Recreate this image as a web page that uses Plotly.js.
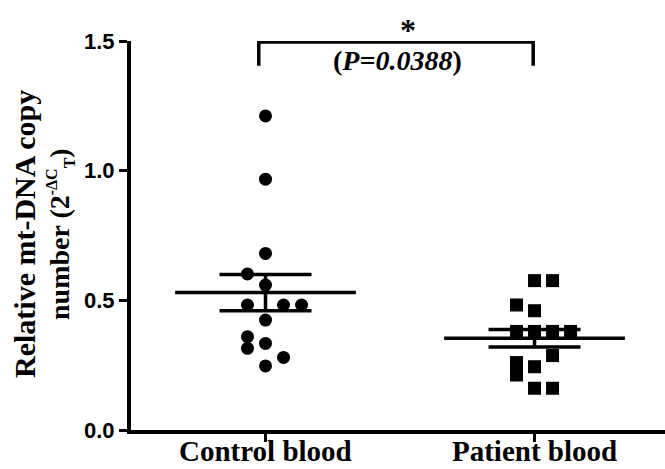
<!DOCTYPE html>
<html>
<head>
<meta charset="utf-8">
<script src="https://cdn.plot.ly/plotly-3.0.1.min.js"></script>
<style>html,body{margin:0;padding:0;background:#fff}#chart{width:665px;height:469px}</style>
</head>
<body>
<div id="chart"></div>
<script>
// ---- data ----
const categories = ['Control blood', 'Patient blood'];
const controlValues = [1.211, 0.967, 0.681, 0.602, 0.559, 0.482, 0.482, 0.482, 0.424, 0.360, 0.315, 0.334, 0.280, 0.247];
const controlSlots  = [0, 0, 0, -1, 0, -1, 1, 2, 0, -1, -1, 0, 1, 0];
const patientValues = [0.576, 0.576, 0.482, 0.460, 0.380, 0.380, 0.380, 0.380, 0.287, 0.260, 0.244, 0.212, 0.161, 0.161];
const patientSlots  = [0, 1, -1, 0, -1, 0, 1, 2, 1, -1, 0, -1, 0, 1];
const groupMeans = [0.530, 0.354];
const groupSEM   = [0.070, 0.034];
const yTickVals  = [0, 0.5, 1.0, 1.5];
const yTickText  = ['0.0', '0.5', '1.0', '1.5'];
const pValueText = 'P=0.0388';
const yTitleLines = ['Relative mt-DNA copy',
  'number (2<sup><span style="font-size:16px">-ΔC</span></sup><sub><span style="font-size:16px">T</span></sub>)'];

// ---- layout helpers (positions, not data) ----
const slotStep = 0.067;
const meanHalf = 0.336;
const serif = 'Liberation Serif, Times New Roman, serif';
const sans = 'Liberation Sans, Arial, sans-serif';
const plotH = 469 - 41 - 39;
const plotW = 665 - 131;

const traces = [
  {
    type: 'scatter', mode: 'markers',
    x: groupMeans.map((m, i) => i),
    y: groupMeans,
    marker: {size: 1, color: 'rgba(0,0,0,0)'},
    error_x: {type: 'constant', value: meanHalf, width: 0, thickness: 3.5, color: '#000'},
    error_y: {type: 'data', array: groupSEM, width: 46, thickness: 3.5, color: '#000'},
    hoverinfo: 'skip', showlegend: false
  },
  {
    type: 'scatter', mode: 'markers',
    x: controlSlots.map(s => 0 + s * slotStep),
    y: controlValues,
    marker: {symbol: 'circle', size: 13, color: '#000'},
    showlegend: false, cliponaxis: false
  },
  {
    type: 'scatter', mode: 'markers',
    x: patientSlots.map(s => 1 + s * slotStep),
    y: patientValues,
    marker: {symbol: 'square', size: 13, color: '#000'},
    showlegend: false, cliponaxis: false
  }
];

const annotations = [
  {xref: 'x', yref: 'paper', x: 0.53, y: (430 - 30) / plotH, text: '<b>*</b>', showarrow: false,
   font: {family: serif, size: 32, color: '#000'}, xanchor: 'center', yanchor: 'middle'},
  {xref: 'x', yref: 'paper', x: 0.49, y: (430 - 60) / plotH, text: '<b>(<i>' + pValueText + '</i>)</b>', showarrow: false,
   font: {family: serif, size: 28, color: '#000'}, xanchor: 'center', yanchor: 'middle'},
  {xref: 'paper', yref: 'paper', x: (24 - 131) / plotW, y: (430 - 234) / plotH, text: '<b>' + yTitleLines[0] + '</b>',
   textangle: -90, showarrow: false, font: {family: serif, size: 30, color: '#000'},
   xanchor: 'center', yanchor: 'middle'},
  {xref: 'paper', yref: 'paper', x: (60 - 131) / plotW, y: (430 - 234) / plotH, text: '<b>' + yTitleLines[1] + '</b>',
   textangle: -90, showarrow: false, font: {family: serif, size: 28, color: '#000'},
   xanchor: 'center', yanchor: 'middle'}
];
categories.forEach((c, i) => annotations.push({
  xref: 'x', yref: 'paper', x: i, y: -(451 - 430) / plotH, text: '<b>' + c + '</b>', showarrow: false,
  font: {family: serif, size: 29, color: '#000'}, xanchor: 'center', yanchor: 'middle'
}));

const layout = {
  width: 665, height: 469,
  margin: {l: 131, r: 0, t: 41, b: 39},
  paper_bgcolor: '#fff', plot_bgcolor: '#fff',
  showlegend: false,
  xaxis: {
    range: [-0.5, 1.485],
    tickvals: [0, 1], showticklabels: false,
    showgrid: false, zeroline: false,
    showline: true, linecolor: '#000', linewidth: 4,
    ticks: 'outside', ticklen: 8, tickwidth: 3, tickcolor: '#000'
  },
  yaxis: {
    range: [0, 1.5],
    tickvals: yTickVals, ticktext: yTickText,
    showgrid: false, zeroline: false,
    showline: true, linecolor: '#000', linewidth: 4,
    ticks: 'outside', ticklen: 8, tickwidth: 3, tickcolor: '#000',
    tickfont: {family: sans, size: 22, color: '#000', weight: 'bold'}
  },
  shapes: [
    {type: 'path', xref: 'x', yref: 'y',
     path: 'M -0.025,1.405 L -0.025,1.496 L 0.995,1.496 L 0.995,1.405',
     line: {color: '#000', width: 3.5}}
  ],
  annotations: annotations
};

Plotly.newPlot('chart', traces, layout, {displayModeBar: false, staticPlot: true});
</script>
</body>
</html>
